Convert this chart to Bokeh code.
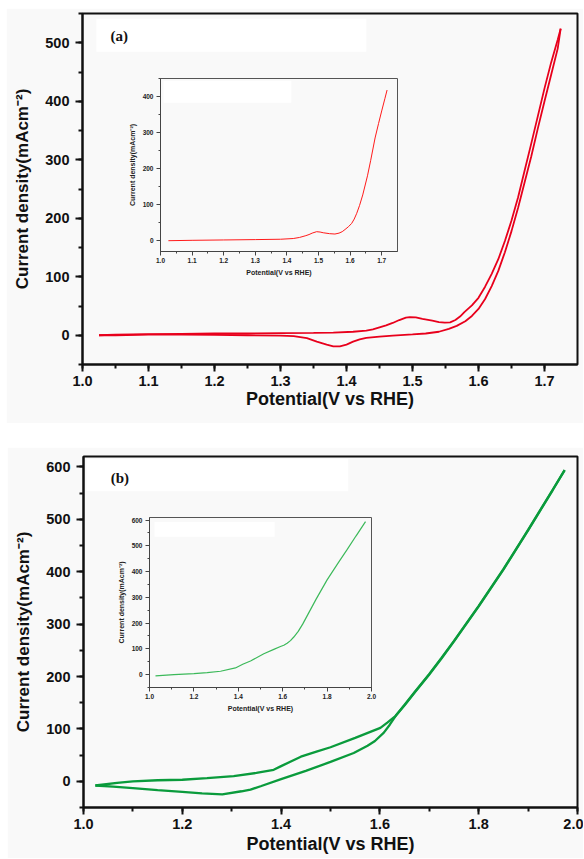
from bokeh.plotting import figure
from bokeh.models import Label, BoxAnnotation, SingleIntervalTicker, Range1d, PrintfTickFormatter
from bokeh.layouts import column
from bokeh.embed import file_html
from bokeh.resources import INLINE

# ---------------- data ----------------
# Panel (a): cyclic voltammogram, upper (anodic) branch
a_fwd_v = [1.025, 1.05, 1.10, 1.15, 1.20, 1.25, 1.30, 1.35, 1.38, 1.41, 1.43, 1.44, 1.46,
           1.47, 1.48, 1.49, 1.496, 1.505, 1.515, 1.53, 1.54, 1.549, 1.557, 1.565, 1.572,
           1.579, 1.59, 1.60, 1.61, 1.62, 1.63, 1.64, 1.65, 1.66, 1.67, 1.68, 1.69, 1.70,
           1.71, 1.72, 1.7245]
a_fwd_j = [0, 1, 2, 2.5, 3, 3, 3.5, 4, 4.5, 6, 8, 10, 17,
           21, 26, 30, 31, 30.5, 28, 25, 22.5, 21.5, 22, 26, 32,
           40, 51, 64, 83, 105, 130, 161, 196, 236, 282, 328, 375, 422,
           466, 505, 524]
# Panel (a): return (lower) branch
a_rev_v = [1.7245, 1.72, 1.71, 1.70, 1.69, 1.68, 1.67, 1.66, 1.65, 1.64, 1.63, 1.62, 1.61,
           1.60, 1.59, 1.58, 1.567, 1.555, 1.54, 1.52, 1.50, 1.47, 1.45, 1.43, 1.42, 1.41,
           1.40, 1.39, 1.38, 1.37, 1.355, 1.34, 1.32, 1.30, 1.25, 1.20, 1.15, 1.10, 1.05, 1.025]
a_rev_j = [524, 490, 445, 400, 354, 306, 262, 218, 178, 142, 110, 84, 62,
           45, 33, 24, 16, 11, 6, 3, 1.5, -0.5, -2.5, -4.5, -7, -11,
           -16, -19, -19, -16, -11, -5, -1.5, -0.5, 0, 0.5, 1, 1, 0, 0]
# Panel (a) inset: LSV
ia_v = [1.025, 1.10, 1.20, 1.30, 1.38, 1.42, 1.44, 1.46, 1.47, 1.48, 1.494, 1.505, 1.515,
        1.535, 1.552, 1.565, 1.575, 1.584, 1.595, 1.605, 1.613, 1.621, 1.63, 1.64, 1.655,
        1.665, 1.679, 1.69, 1.70, 1.71, 1.717]
ia_j = [0, 1, 2, 3, 4, 6, 9, 14, 17, 21, 25, 24, 22,
        19.5, 18.5, 21, 25, 31, 39, 48, 60, 76, 98, 127, 180,
        222, 285, 325, 360, 394, 418]

# Panel (b): upper branch
b_fwd_v = [1.024, 1.068, 1.10, 1.15, 1.20, 1.25, 1.304, 1.35, 1.385, 1.40, 1.44, 1.47, 1.50,
           1.55, 1.601, 1.615, 1.632, 1.65, 1.67, 1.70, 1.725, 1.75, 1.80, 1.85, 1.90,
           1.95, 1.974]
b_fwd_j = [-8, -3, 0, 2, 3, 6, 10, 16, 22, 29, 47, 56, 65,
           83, 102, 112, 125, 146, 170, 205, 236, 268, 335, 405, 480,
           557, 594]
# Panel (b): lower branch (return scan)
b_rev_v = [1.974, 1.95, 1.90, 1.85, 1.80, 1.75, 1.725, 1.70, 1.67, 1.65, 1.632, 1.62, 1.608,
           1.59, 1.575, 1.547, 1.50, 1.45, 1.40, 1.36, 1.338, 1.32, 1.281, 1.24, 1.20, 1.15,
           1.10, 1.06, 1.024]
b_rev_j = [594, 556, 479, 404, 334, 267, 235, 204, 169, 145, 125, 108, 93,
           77, 68, 54, 37, 20, 4, -9, -16, -19, -25, -23, -20, -17,
           -13, -10, -8]
# Panel (b) inset: LSV
ib_v = [1.027, 1.11, 1.20, 1.26, 1.32, 1.387, 1.42, 1.455, 1.515, 1.56, 1.59, 1.605,
        1.62, 1.635, 1.65, 1.67, 1.69, 1.71, 1.75, 1.80, 1.85, 1.89, 1.93, 1.973]
ib_j = [-5, 0, 4, 8, 13, 26, 40, 53, 81, 98, 109, 114,
        122, 132, 146, 168, 196, 228, 292, 368, 434, 485, 538, 594]

X_TITLE = "Potential(V vs RHE)"
Y_TITLE = "Current density(mAcm\u207b\u00b2)"

BG = "#f9f9f9"
INK = "#111111"
RED = "#e8001c"
GREEN = "#0a9b3c"
FONT = "Liberation Sans"
BORDER_L = 76   # identical left/right borders for every figure (the column aligns them)
BORDER_R = 6


def style_axes(p, xint, yint, main=True):
    p.xgrid.visible = False
    p.ygrid.visible = False
    p.background_fill_color = BG
    if main:
        p.border_fill_color = BG
    else:
        p.border_fill_alpha = 0.0
    p.xaxis.ticker = SingleIntervalTicker(interval=xint, num_minor_ticks=2)
    p.yaxis.ticker = SingleIntervalTicker(interval=yint, num_minor_ticks=2)
    p.xaxis.formatter = PrintfTickFormatter(format="%.1f")
    if main:
        p.outline_line_color = INK
        p.outline_line_width = 2
        for ax in (p.xaxis[0], p.yaxis[0]):
            ax.axis_line_color = INK
            ax.axis_line_width = 2
            ax.major_tick_line_color = INK
            ax.major_tick_line_width = 2
            ax.major_tick_in = 0
            ax.major_tick_out = 7
            ax.minor_tick_line_color = INK
            ax.minor_tick_line_width = 2
            ax.minor_tick_in = 0
            ax.minor_tick_out = 4
            ax.major_label_text_font = FONT
            ax.major_label_text_font_style = "bold"
            ax.major_label_text_font_size = "14.5px"
            ax.major_label_text_color = INK
            ax.axis_label_text_font = FONT
            ax.axis_label_text_font_style = "bold"
            ax.axis_label_text_color = INK
        p.xaxis.major_label_standoff = 4
        p.xaxis.axis_label_standoff = 0
        p.xaxis.axis_label_text_font_size = "18px"
        p.yaxis.major_label_standoff = 6
        p.yaxis.axis_label_standoff = 10
        p.yaxis.axis_label_text_font_size = "17px"
    else:
        p.outline_line_color = "#555555"
        p.outline_line_width = 1
        for ax in (p.xaxis[0], p.yaxis[0]):
            ax.axis_line_color = "#444444"
            ax.axis_line_width = 1
            ax.major_tick_line_color = "#444444"
            ax.major_tick_line_width = 1
            ax.major_tick_in = 0
            ax.major_tick_out = 4
            ax.minor_tick_line_color = "#444444"
            ax.minor_tick_line_width = 1
            ax.minor_tick_in = 0
            ax.minor_tick_out = 2
            ax.major_label_text_font = FONT
            ax.major_label_text_font_style = "bold"
            ax.major_label_text_font_size = "6.5px"
            ax.major_label_text_color = "#222222"
            ax.axis_label_text_font = FONT
            ax.axis_label_text_font_style = "bold"
            ax.axis_label_text_font_size = "7px"
            ax.axis_label_text_color = "#222222"
        p.xaxis.major_label_standoff = 2
        p.xaxis.axis_label_standoff = 3
        p.yaxis.major_label_standoff = 3
        p.yaxis.axis_label_standoff = 4


def white_box(p, l, r, b, t):
    p.add_layout(BoxAnnotation(left=l, right=r, bottom=b, top=t, fill_color="white",
                               fill_alpha=1.0, line_color=None, level="underlay"))


# ---------------- panel (a) ----------------
pa = figure(width=577, height=415, x_range=Range1d(1.0, 1.75), y_range=Range1d(-50, 550),
            output_backend="svg", toolbar_location=None,
            x_axis_label=X_TITLE, y_axis_label=Y_TITLE,
            min_border_left=BORDER_L, min_border_right=BORDER_R, min_border_top=5,
            min_border_bottom=59, margin=(8, 0, 0, 6))
style_axes(pa, 0.1, 100, main=True)
white_box(pa, 1.021, 1.430, 484.6, 541)
pa.line(a_fwd_v, a_fwd_j, line_color=RED, line_width=1.8)
pa.line(a_rev_v, a_rev_j, line_color=RED, line_width=1.8)
pa.add_layout(Label(x=1.0425, y=512, text="(a)", text_font="Liberation Serif",
                    text_font_style="bold", text_font_size="15px", text_color=INK,
                    text_baseline="middle"))

ia = figure(width=319, height=204, x_range=Range1d(1.0, 1.75), y_range=Range1d(-30, 450),
            output_backend="svg", toolbar_location=None,
            x_axis_label=X_TITLE, y_axis_label=Y_TITLE,
            min_border_left=BORDER_L, min_border_right=BORDER_R, min_border_top=4,
            min_border_bottom=26, margin=(-349, 0, 0, 84))
style_axes(ia, 0.1, 100, main=False)
white_box(ia, 1.0096, 1.414, 383, 443.5)
ia.line(ia_v, ia_j, line_color="#ff1a1a", line_width=1)

# ---------------- panel (b) ----------------
pb = figure(width=576, height=411, x_range=Range1d(1.0, 2.0), y_range=Range1d(-50, 620),
            output_backend="svg", toolbar_location=None,
            x_axis_label=X_TITLE, y_axis_label=Y_TITLE,
            min_border_left=BORDER_L, min_border_right=BORDER_R, min_border_top=9,
            min_border_bottom=51, margin=(169, 0, 0, 7))
style_axes(pb, 0.2, 100, main=True)
pb.xaxis.axis_label_standoff = 2
white_box(pb, 1.006, 1.536, 553.6, 615)
pb.line(b_fwd_v, b_fwd_j, line_color=GREEN, line_width=2.3)
pb.line(b_rev_v, b_rev_j, line_color=GREEN, line_width=2.3)
pb.add_layout(Label(x=1.055, y=579, text="(b)", text_font="Liberation Serif",
                    text_font_style="bold", text_font_size="15px", text_color=INK,
                    text_baseline="middle"))

ib = figure(width=304, height=202, x_range=Range1d(1.0, 2.0), y_range=Range1d(-50, 610),
            output_backend="svg", toolbar_location=None,
            x_axis_label=X_TITLE, y_axis_label=Y_TITLE,
            min_border_left=BORDER_L, min_border_right=BORDER_R, min_border_top=4,
            min_border_bottom=28, margin=(-345, 0, 0, 73))
style_axes(ib, 0.2, 100, main=False)
white_box(ib, 1.0225, 1.5635, 535, 593)
ib.line(ib_v, ib_j, line_color="#3cb95a", line_width=1.2)

layout = column(pa, ia, pb, ib, spacing=0)

with open("out.html", "w") as f:
    f.write(file_html(layout, INLINE))
